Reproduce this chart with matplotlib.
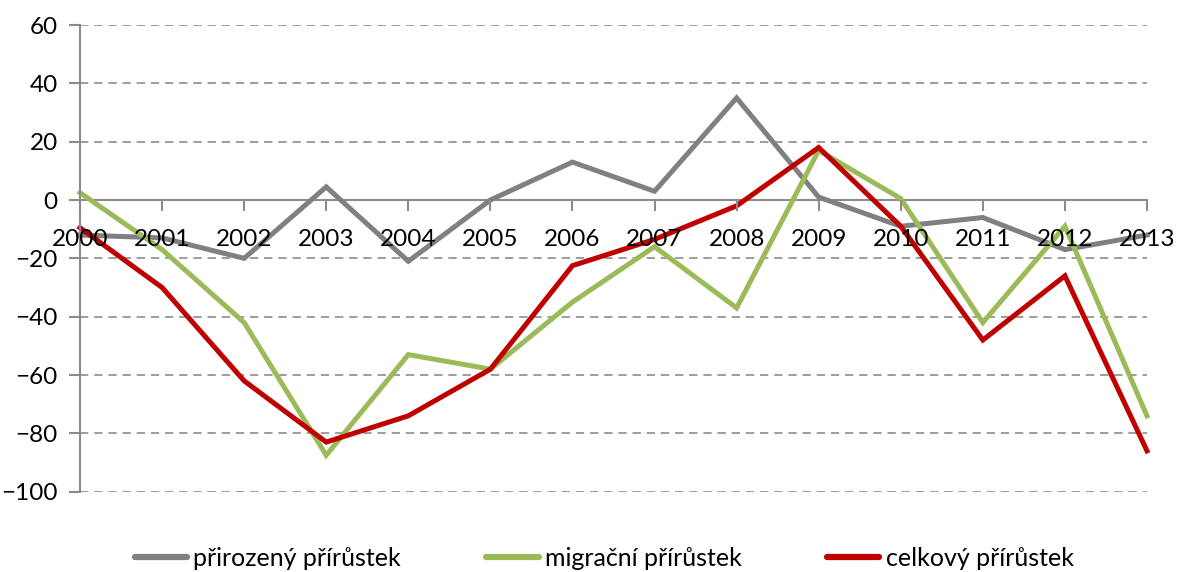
import matplotlib
matplotlib.use('Agg')
import matplotlib.pyplot as plt

plt.rcParams['font.family'] = ['Lato', 'DejaVu Sans']

# ── Data ──────────────────────────────────────────────────────────────────────
years = ['2000', '2001', '2002', '2003', '2004', '2005', '2006',
         '2007', '2008', '2009', '2010', '2011', '2012', '2013']
natural = [-12, -13, -20, 4.5, -21, 0, 13, 3, 35, 1, -9, -6, -17, -12]
migration = [2.5, -17, -42, -87.5, -53, -58, -35, -16, -37, 17, 0.5, -42, -9, -74]
total = [-9.5, -30, -62, -83, -74, -58, -22.5, -13.5, -2, 18, -9, -48, -26, -86]
labels = ['přirozený přírůstek', 'migrační přírůstek', 'celkový přírůstek']
colors = ['#808080', '#9BBB59', '#C00000']

# ── Canvas ────────────────────────────────────────────────────────────────────
fig = plt.figure(figsize=(11.8, 5.72), dpi=100)
ax = fig.add_axes([80 / 1180, 1 - 491.7 / 572, (1147 - 80) / 1180, (491.7 - 25) / 572])

x = list(range(len(years)))
for series, lab, col in zip([natural, migration, total], labels, colors):
    ax.plot(x, series, color=col, lw=3.6, label=lab, solid_joinstyle='miter',
            clip_on=False, zorder=2)

ax.set_xlim(0, len(years) - 1)
ax.set_ylim(-100, 60)
ax.set_yticks(range(-100, 61, 20))
ax.set_xticks(x)
ax.set_xticklabels(years)
ax.set_axisbelow(False)   # category labels drawn over the lines

# dashed gridlines (zero line is the solid category axis)
for v in range(-100, 61, 20):
    if v != 0:
        ax.axhline(v, color='#8c8c8c', lw=1.2, ls=(0, (5, 3.5)), zorder=1)

for side in ['top', 'right']:
    ax.spines[side].set_visible(False)
ax.spines['bottom'].set_position(('data', 0))
ax.spines['bottom'].set_color('#8c8c8c')
ax.spines['bottom'].set_linewidth(1.5)
ax.spines['bottom'].set_zorder(1.5)
ax.spines['left'].set_color('#8c8c8c')
ax.spines['left'].set_linewidth(1.5)

ax.tick_params(axis='x', direction='out', length=8, width=1.5, color='#8c8c8c',
               pad=13, labelsize=17.5)
ax.tick_params(axis='y', direction='out', length=8, width=1.5, color='#8c8c8c',
               pad=8, labelsize=17.5)

leg = fig.legend(loc='lower center', bbox_to_anchor=(0.512, -0.035), ncol=3,
                 frameon=False, fontsize=18, handlelength=2.1, handletextpad=0.25,
                 columnspacing=3.4)
for h in leg.get_lines():
    h.set_linewidth(4.5)
    h.set_solid_capstyle('round')

plt.savefig('out.png', dpi=100, facecolor='white')
